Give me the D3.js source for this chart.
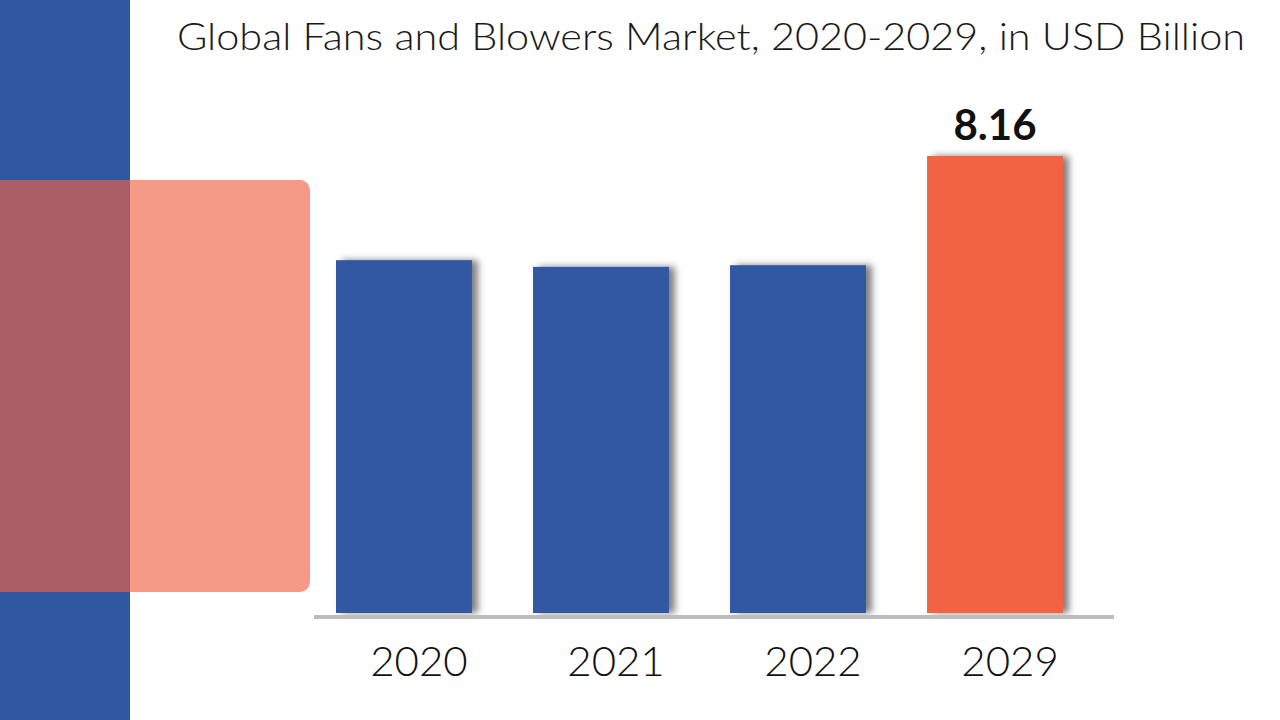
<!DOCTYPE html>
<html><head><meta charset="utf-8">
<script src="https://cdn.jsdelivr.net/npm/d3@7/dist/d3.min.js"></script>
<style>html,body{margin:0;padding:0;background:#fff;overflow:hidden}</style>
</head><body>
<svg id="c" width="1280" height="720"></svg>
<script>
const years = ["2020", "2021", "2022", "2029"];
const values = [6.30, 6.18, 6.21, 8.16];
const labelled = ["2029"];
const title = "Global Fans and Blowers Market, 2020-2029, in USD Billion";

const svg = d3.select("#c");
const defs = svg.append("defs");
const f = defs.append("filter").attr("id","sh").attr("x","-10%").attr("y","-10%").attr("width","130%").attr("height","120%");
f.append("feDropShadow").attr("dx",6).attr("dy",0).attr("stdDeviation",3.5).attr("flood-color","#555").attr("flood-opacity",0.75);

svg.append("rect").attr("width",1280).attr("height",720).attr("fill","#fff");
// left decoration
svg.append("rect").attr("x",0).attr("y",0).attr("width",130).attr("height",720).attr("fill","#2F58A1");
svg.append("rect").attr("x",-20).attr("y",180).attr("width",330).attr("height",412).attr("rx",10).attr("fill","#F49A86");
svg.append("rect").attr("x",0).attr("y",180).attr("width",130).attr("height",412).attr("fill","#AC5E66");

const x = d3.scaleBand().domain(years).range([336, 1063]).paddingInner(0.31).paddingOuter(0);
const y = d3.scaleLinear().domain([0, d3.max(values)]).range([613, 156]);

const data = years.map((yr,i)=>({yr, v: values[i]}));

svg.append("g").selectAll("rect").data(data).join("rect")
  .attr("x", d=>x(d.yr)).attr("width", x.bandwidth())
  .attr("y", d=>y(d.v)).attr("height", d=>y(0)-y(d.v))
  .attr("fill", d=> d.yr==="2029" ? "#F26442" : "#3059A3")
  .attr("filter","url(#sh)");

// axis baseline
svg.append("line").attr("x1",314).attr("x2",1114).attr("y1",y(0)+4).attr("y2",y(0)+4)
  .attr("stroke","#BDBDBD").attr("stroke-width",4);

const axis = d3.axisBottom(x).tickSize(0).tickPadding(0);
const g = svg.append("g").attr("transform",`translate(0,${y(0)})`).call(axis);
g.select(".domain").remove();
g.selectAll("text").attr("font-family","Lato, sans-serif").attr("font-size",42).attr("font-weight",300)
  .attr("fill","#111").attr("dy","0").attr("y",63).attr("dx",15);

svg.append("g").selectAll("text").data(data.filter(d=>labelled.includes(d.yr))).join("text")
  .attr("x", d=>x(d.yr)+x.bandwidth()/2).attr("y", d=>y(d.v)-16)
  .attr("text-anchor","middle").attr("font-family","Lato, sans-serif").attr("font-weight","bold")
  .attr("font-size",42).attr("fill","#111").text(d=>d.v.toFixed(2));

const t = svg.append("text").attr("x",177).attr("y",50).attr("font-family","Lato, sans-serif")
  .attr("font-size",37).attr("font-weight",300).attr("fill","#1a1a1a").text(title);
t.attr("textLength",1068).attr("lengthAdjust","spacingAndGlyphs");
</script>
</body></html>
